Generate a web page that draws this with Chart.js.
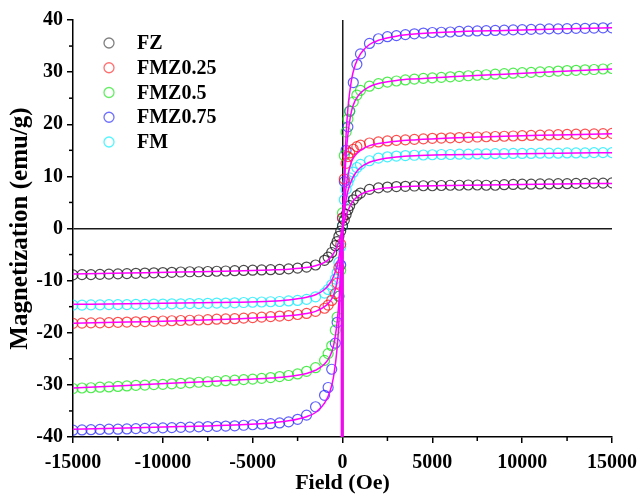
<!DOCTYPE html>
<html>
<head>
<meta charset="utf-8">
<script src="https://cdn.jsdelivr.net/npm/chart.js@4.4.1/dist/chart.umd.min.js"></script>
<style>
html,body{margin:0;padding:0;background:#fff;}
canvas{display:block;}
</style>
</head>
<body>
<canvas id="c" width="638" height="497"></canvas>
<script>
// ---- Data ----
const field = [-15000,-14500,-14000,-13500,-13000,-12500,-12000,-11500,-11000,-10500,-10000,-9500,-9000,-8500,-8000,-7500,-7000,-6500,-6000,-5500,-5000,-4500,-4000,-3500,-3000,-2500,-2000,-1500,-1000,-800,-600,-400,-300,-200,-100,0,100,200,300,400,600,800,1000,1500,2000,2500,3000,3500,4000,4500,5000,5500,6000,6500,7000,7500,8000,8500,9000,9500,10000,10500,11000,11500,12000,12500,13000,13500,14000,14500,15000];

const mFZ = [-8.9,-8.85,-8.85,-8.8,-8.75,-8.7,-8.65,-8.6,-8.55,-8.5,-8.45,-8.4,-8.35,-8.3,-8.3,-8.25,-8.2,-8.15,-8.1,-8.05,-8.0,-7.95,-7.9,-7.85,-7.75,-7.6,-7.4,
  -7.0,-6.1,-5.5,-4.6,-3.3,-2.5,-1.5,-0.5,0.5,1.6,2.7,3.6,4.4,5.5,6.3,6.8,7.5,
  7.8,7.95,8.05,8.1,8.15,8.2,8.2,8.25,8.3,8.3,8.35,8.35,8.3,8.3,8.4,8.45,8.5,8.5,8.55,8.55,8.6,8.6,8.65,8.65,8.7,8.7,8.75];

const mFMZ025 = [-18.2,-18.15,-18.1,-18.1,-18.05,-18.0,-17.95,-17.9,-17.85,-17.8,-17.75,-17.7,-17.65,-17.6,-17.55,-17.5,-17.4,-17.35,-17.3,-17.2,-17.1,-17.0,-16.9,-16.8,-16.7,-16.5,-16.3,
  -15.9,-15.3,-14.7,-13.8,-12.5,-10.5,-7.5,-3.0,2.0,9.5,12.5,13.8,14.5,15.2,15.7,16.0,16.4,
  16.6,16.8,16.9,17.0,17.1,17.2,17.3,17.35,17.4,17.45,17.5,17.55,17.6,17.65,17.7,17.75,17.8,17.85,17.9,17.95,18.0,18.05,18.1,18.1,18.15,18.2,18.25];

const mFMZ05 = [-30.7,-30.6,-30.55,-30.45,-30.4,-30.3,-30.2,-30.1,-30.05,-29.95,-29.9,-29.8,-29.7,-29.6,-29.5,-29.4,-29.3,-29.2,-29.1,-29.0,-28.9,-28.75,-28.6,-28.4,-28.2,-27.9,-27.4,
  -26.7,-25.3,-24.0,-22.5,-19.5,-17.0,-13.0,-8.0,3.0,14.0,18.5,21.0,22.5,24.3,25.6,26.5,27.3,
  27.8,28.1,28.3,28.5,28.65,28.8,28.9,29.0,29.1,29.2,29.3,29.4,29.5,29.6,29.7,29.8,29.9,29.95,30.05,30.1,30.2,30.3,30.35,30.45,30.5,30.6,30.7];

const mFMZ075 = [-38.7,-38.65,-38.6,-38.55,-38.5,-38.5,-38.45,-38.4,-38.35,-38.3,-38.25,-38.2,-38.15,-38.1,-38.05,-38.0,-37.95,-37.9,-37.85,-37.75,-37.65,-37.55,-37.45,-37.3,-37.1,-36.6,-35.8,
  -34.2,-32.0,-30.5,-27.0,-22.0,-18.0,-13.0,-7.0,2.0,9.0,15.0,19.5,22.5,28.0,31.5,33.5,35.5,
  36.4,36.8,37.0,37.2,37.35,37.5,37.6,37.65,37.7,37.8,37.85,37.9,37.95,38.0,38.05,38.1,38.15,38.2,38.25,38.3,38.3,38.35,38.4,38.4,38.45,38.5,38.5];

const mFM = [-14.7,-14.7,-14.65,-14.65,-14.6,-14.6,-14.6,-14.55,-14.55,-14.5,-14.5,-14.45,-14.45,-14.4,-14.4,-14.35,-14.3,-14.3,-14.25,-14.2,-14.15,-14.1,-14.05,-14.0,-13.9,-13.8,-13.6,
  -13.1,-12.4,-11.7,-10.8,-9.7,-8.5,-6.5,-3.5,0.5,5.5,7.5,8.8,9.7,10.8,11.7,12.3,13.0,
  13.5,13.75,13.9,14.0,14.05,14.1,14.15,14.2,14.2,14.25,14.25,14.3,14.3,14.35,14.35,14.4,14.4,14.4,14.45,14.45,14.45,14.5,14.5,14.5,14.55,14.55,14.55];

// fitted curves (magenta)
const fitField = [-15000,-12000,-9000,-6000,-4000,-3000,-2000,-1500,-1000,-700,-500,-300,-200,-100,0,100,200,300,500,700,1000,1500,2000,3000,4000,6000,9000,12000,15000];
const fitFZ = [-8.75,-8.55,-8.35,-8.15,-7.95,-7.8,-7.5,-7.15,-6.5,-5.7,-4.8,-3.4,-2.5,-1.3,0,1.3,2.5,3.4,4.8,5.7,6.5,7.2,7.6,7.95,8.1,8.25,8.4,8.55,8.65];
const fitFMZ025 = [-18.2,-17.95,-17.7,-17.35,-17.0,-16.75,-16.3,-15.9,-15.0,-14.0,-12.8,-10.2,-8.0,-4.5,0,4.5,8.0,10.2,12.8,14.0,15.0,15.9,16.3,16.75,17.0,17.35,17.7,17.95,18.2];
const fitFMZ05 = [-30.6,-30.1,-29.6,-29.1,-28.7,-28.4,-27.8,-27.2,-26.0,-24.5,-22.5,-18.0,-14.0,-8.0,0,8.0,14.0,18.0,22.5,24.5,26.0,27.2,27.8,28.4,28.7,29.1,29.6,30.1,30.6];
const fitFMZ075 = [-38.5,-38.25,-38.0,-37.7,-37.3,-36.9,-36.1,-35.3,-33.5,-31.3,-28.5,-23.0,-18.0,-10.0,0,10.0,18.0,23.0,28.5,31.3,33.5,35.3,36.1,36.9,37.3,37.7,38.0,38.25,38.5];
const fitFM = [-14.55,-14.45,-14.3,-14.15,-13.95,-13.7,-13.2,-12.7,-11.7,-10.5,-9.2,-7.2,-5.5,-3.0,0,3.0,5.5,7.2,9.2,10.5,11.7,12.7,13.2,13.7,13.95,14.15,14.3,14.45,14.55];
// near-vertical branch of a fit at zero field
const spikeField = [-20, -20];
const spikeM = [-40, 0];

const seriesNames = ['FZ','FMZ0.25','FMZ0.5','FMZ0.75','FM'];
const xTicks = [-15000,-10000,-5000,0,5000,10000,15000];
const yTicks = [-40,-30,-20,-10,0,10,20,30,40];
const xMinor = [-12500,-7500,-2500,2500,7500,12500];
const yMinor = [-35,-25,-15,-5,5,15,25,35];

// ---- build ----
const pts = (xs, ys) => xs.map((x, i) => ({x: x, y: ys[i]}));
const colors = ['rgba(30,30,30,0.8)','rgba(255,20,20,0.75)','rgba(20,230,20,0.75)','rgba(40,40,255,0.75)','rgba(20,235,255,0.8)'];
const legendColors = ['#808080','#ff7070','#66ee66','#7070ff','#55f5ff'];
const dataSets = [mFZ, mFMZ025, mFMZ05, mFMZ075, mFM];
const fitSets = [fitFZ, fitFMZ025, fitFMZ05, fitFMZ075, fitFM];

const datasets = [];
dataSets.forEach((ys, i) => {
  datasets.push({
    label: seriesNames[i],
    data: pts(field, ys),
    showLine: false,
    pointRadius: 5,
    pointHoverRadius: 5,
    pointBorderWidth: 1.2,
    pointBackgroundColor: 'rgba(0,0,0,0)',
    borderColor: colors[i],
    pointBorderColor: colors[i],
    order: 2
  });
});
fitSets.forEach((ys, i) => {
  datasets.push({
    label: seriesNames[i] + ' fit',
    data: pts(fitField, ys),
    showLine: true,
    pointRadius: 0,
    borderColor: '#ff00ff',
    borderWidth: 1.5,
    cubicInterpolationMode: 'monotone',
    fill: false,
    order: 1
  });
});
datasets.push({
  label: 'spike',
  data: pts(spikeField, spikeM),
  showLine: true,
  pointRadius: 0,
  borderColor: '#ff00ff',
  borderWidth: 3,
  fill: false,
  order: 0
});

const FONT = "'Liberation Serif','Times New Roman',serif";

const extras = {
  id: 'extras',
  afterDraw(chart) {
    const ctx = chart.ctx;
    const xs = chart.scales.x, ys = chart.scales.y;
    const a = chart.chartArea;
    ctx.save();
    ctx.strokeStyle = '#000';
    ctx.lineWidth = 1.5;
    xMinor.forEach(v => {
      const p = xs.getPixelForValue(v);
      ctx.beginPath(); ctx.moveTo(p, a.bottom); ctx.lineTo(p, a.bottom + 4); ctx.stroke();
    });
    yMinor.forEach(v => {
      const p = ys.getPixelForValue(v);
      ctx.beginPath(); ctx.moveTo(a.left - 4, p); ctx.lineTo(a.left, p); ctx.stroke();
    });
    // legend
    ctx.font = 'bold 20px ' + FONT;
    ctx.textBaseline = 'middle';
    ctx.textAlign = 'left';
    seriesNames.forEach((name, i) => {
      const cy = 43 + i * 24.75;
      ctx.beginPath();
      ctx.arc(109, cy, 5, 0, Math.PI * 2);
      ctx.strokeStyle = legendColors[i];
      ctx.lineWidth = 1.3;
      ctx.stroke();
      ctx.fillStyle = '#000';
      ctx.fillText(name, 137, cy + 1);
    });
    ctx.restore();
  }
};

const zeroColor = c => (c.tick && c.tick.value === 0) ? '#1a1a1a' : 'rgba(0,0,0,0)';

new Chart(document.getElementById('c'), {
  type: 'scatter',
  data: { datasets: datasets },
  options: {
    responsive: false,
    animation: false,
    devicePixelRatio: 1,
    layout: { padding: { left: 0, right: 26, top: 20, bottom: 0 } },
    plugins: { legend: { display: false }, tooltip: { enabled: false } },
    scales: {
      x: {
        type: 'linear',
        min: -15000, max: 15000,
        afterBuildTicks: s => { s.ticks = xTicks.map(v => ({value: v})); },
        afterFit: s => { s.height = 60; s.paddingLeft = 0; s.paddingRight = 0; },
        border: { display: true, color: '#000', width: 1.5 },
        grid: { color: zeroColor, lineWidth: 1.5, tickColor: '#000', tickLength: 6, tickWidth: 1.5 },
        ticks: { color: '#000', padding: 8, maxRotation: 0, autoSkip: false,
          font: { family: FONT, size: 20, weight: 'bold' },
          callback: v => String(v) },
        title: { display: true, text: 'Field (Oe)', color: '#000', padding: { top: 0, bottom: 0 },
          font: { family: FONT, size: 22, weight: 'bold' } }
      },
      y: {
        type: 'linear',
        min: -40, max: 40,
        afterBuildTicks: s => { s.ticks = yTicks.map(v => ({value: v})); },
        afterFit: s => { s.width = 73; s.paddingTop = 0; s.paddingBottom = 0; },
        border: { display: true, color: '#000', width: 1.5 },
        grid: { color: zeroColor, lineWidth: 1.5, tickColor: '#000', tickLength: 6, tickWidth: 1.5 },
        ticks: { color: '#000', padding: 4, autoSkip: false,
          font: { family: FONT, size: 20, weight: 'bold' },
          callback: v => String(v) },
        title: { display: true, text: 'Magnetization (emu/g)', color: '#000', padding: { top: 6, bottom: 0 },
          font: { family: FONT, size: 25, weight: 'bold' } }
      }
    }
  },
  plugins: [extras]
});
</script>
</body>
</html>
